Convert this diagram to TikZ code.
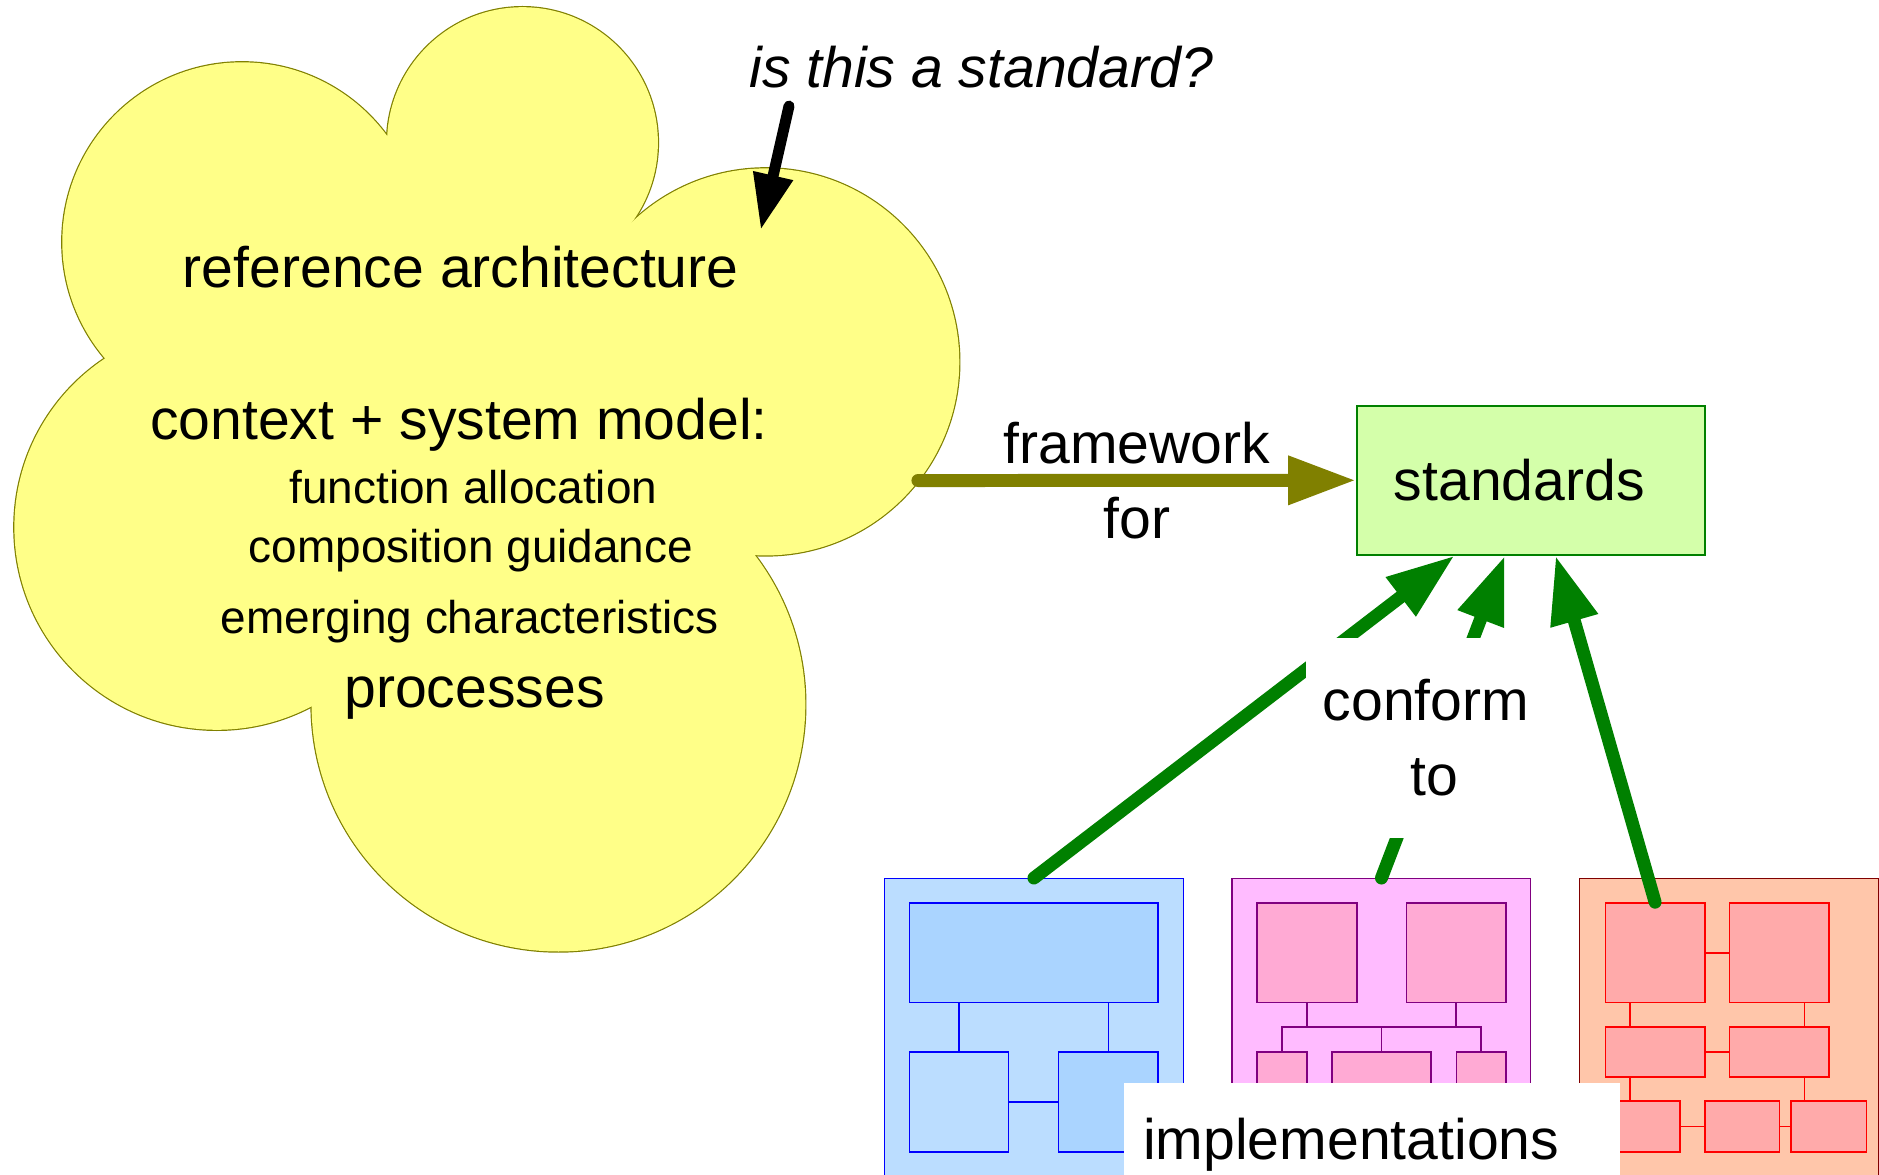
\documentclass[tikz,border=0pt]{standalone}
\usepackage{fontspec}
\setmainfont{Liberation Sans}
\usepackage{tikz}
\usetikzlibrary{positioning}
\usetikzlibrary{arrows.meta, calc}

\definecolor{cloudfill}{RGB}{255,255,136}
\definecolor{cloudline}{RGB}{128,128,0}
\definecolor{fwolive}{RGB}{128,128,0}
\definecolor{confgreen}{RGB}{0,128,0}
\definecolor{stdfill}{RGB}{212,255,170}
\definecolor{bluebg}{RGB}{187,221,255}
\definecolor{bluesub}{RGB}{170,212,255}
\definecolor{pinkbg}{RGB}{255,187,255}
\definecolor{pinksub}{RGB}{255,170,212}
\definecolor{pinkline}{RGB}{128,0,128}
\definecolor{redbg}{RGB}{255,198,170}
\definecolor{redsub}{RGB}{255,170,170}
\definecolor{redframe}{RGB}{128,0,0}

\newcommand{\bigtxt}{\fontsize{28.6}{37.4}\selectfont}
\newcommand{\smalltxt}{\fontsize{23}{28}\selectfont}

\tikzstyle{arrow} = [line width=6.5pt, line cap=round, -{Triangle[length=34pt, width=23pt]}]
\tikzstyle{cloudtext} = [anchor=base, inner sep=0pt]
\tikzstyle{implbox} = [draw, line width=0.6pt, inner sep=0pt, minimum width=149.6pt, minimum height=166.1pt]
\tikzstyle{part} = [draw, line width=0.8pt, inner sep=0pt]
\tikzstyle{wire} = [line width=0.8pt]
\tikzstyle{notebox} = [fill=white, font=\bigtxt]

\begin{document}
\begin{tikzpicture}[x=0.6pt, y=-0.6pt]
  \useasboundingbox (0,0) rectangle (1568,980);

  % cloud
  \foreach \cx/\cy/\r in {202/202/150, 436/119/113, 639/302/161.5, 466/588/206, 181/440/169}
    \draw[cloudline, line width=1.2pt] (\cx,\cy) circle (\r);
  \fill[cloudfill] (202,202) -- (436,119) -- (639,302) -- (466,588) -- (181,440) -- cycle;
  \foreach \cx/\cy/\r in {202/202/150, 436/119/113, 639/302/161.5, 466/588/206, 181/440/169}
    \fill[cloudfill] (\cx,\cy) circle (\r);

  \node[cloudtext, font=\bigtxt] (refarch) at (384.5,240) {reference architecture};
  \node[cloudtext, font=\bigtxt] (context) at (383,367) {context + system model:};
  \node[cloudtext, font=\smalltxt] (funcalloc) at (395,420) {function allocation};
  \node[cloudtext, font=\smalltxt] (compguide) at (393,469) {composition guidance};
  \node[cloudtext, font=\smalltxt] (emerging) at (392,529) {emerging characteristics};
  \node[cloudtext, font=\bigtxt] (processes) at (396,590) {processes};

  % question
  \node[cloudtext, font=\bigtxt\itshape] (question) at (818.8,72.9) {is this a standard?};
  \coordinate (qtail) at (658.4,88.5);
  \coordinate (cloudtop) at (634.8,192);
  \draw[line width=5.5pt, line cap=round, -{Triangle[length=28pt, width=19pt]}] (qtail) -- (cloudtop);

  % standards
  \node[draw=confgreen, fill=stdfill, line width=0.8pt, font=\bigtxt, text width=137pt,
        inner xsep=18.6pt, minimum height=74.6pt, align=left] (stds) at (1277.4,400.8) {standards};
  \coordinate (cloudright) at (766,401);
  \draw[arrow, fwolive] (cloudright) -- (stds.west)
    node[midway, font=\bigtxt, align=center, text=black] {framework\\for};

  % implementations
  \node[implbox, draw=blue, fill=bluebg] (blueimpl) at (862.8,871.6) {};
  \node[part, draw=blue, fill=bluesub, minimum width=124.4pt, minimum height=49.9pt] (bt) at (862.75,795.1) {};
  \node[part, draw=blue, fill=bluebg, minimum width=49.5pt, minimum height=50.1pt] (bl) at (800.35,919.65) {};
  \node[part, draw=blue, fill=bluesub, minimum width=49.8pt, minimum height=50.1pt] (br) at (924.9,919.65) {};
  \draw[wire, blue] (bt.south -| bl.north) -- (bl.north);
  \draw[wire, blue] (bt.south -| br.north) -- (br.north);
  \draw[wire, blue] (bl.east) -- (br.west);

  \node[implbox, draw=pinkline, fill=pinkbg] (pinkimpl) at (1152.8,871.6) {};
  \node[part, draw=pinkline, fill=pinksub, minimum width=50.1pt, minimum height=49.9pt] (pa) at (1090.65,795.1) {};
  \node[part, draw=pinkline, fill=pinksub, minimum width=49.8pt, minimum height=49.9pt] (pb) at (1215.2,795.1) {};
  \node[part, draw=pinkline, fill=pinksub, minimum width=25.1pt, minimum height=50.1pt] (pc) at (1069.8,919.65) {};
  \node[part, draw=pinkline, fill=pinksub, minimum width=49.8pt, minimum height=50.1pt] (pd) at (1152.8,919.65) {};
  \node[part, draw=pinkline, fill=pinksub, minimum width=24.7pt, minimum height=50.1pt] (pe) at (1236.1,919.65) {};
  \coordinate (pbus) at (1152.8,857);
  \draw[wire, pinkline] (pa.south) -- (pa.south |- pbus);
  \draw[wire, pinkline] (pb.south) -- (pb.south |- pbus);
  \draw[wire, pinkline] (pc.north) |- (pe.north |- pbus) -- (pe.north);
  \draw[wire, pinkline] (pd.north) -- (pd.north |- pbus);

  \node[implbox, draw=redframe, fill=redbg] (redimpl) at (1443,871.6) {};
  \node[part, draw=red, fill=redsub, minimum width=49.7pt, minimum height=49.9pt] (ra) at (1381.15,795.1) {};
  \node[part, draw=red, fill=redsub, minimum width=49.7pt, minimum height=49.9pt] (rb) at (1484.7,795.1) {};
  \node[part, draw=red, fill=redsub, minimum width=49.7pt, minimum height=25.1pt] (rc) at (1381.15,877.9) {};
  \node[part, draw=red, fill=redsub, minimum width=49.7pt, minimum height=25.1pt] (rd) at (1484.7,877.9) {};
  \node[part, draw=red, fill=redsub, minimum width=37.5pt, minimum height=25.4pt] (re) at (1370.55,940.15) {};
  \node[part, draw=red, fill=redsub, minimum width=37.4pt, minimum height=25.4pt] (rf) at (1453.8,940.15) {};
  \node[part, draw=red, fill=redsub, minimum width=37.7pt, minimum height=25.4pt] (rg) at (1526.15,940.15) {};
  \coordinate (rleft) at ($(ra.south west)!0.25!(ra.south east)$);
  \coordinate (rright) at ($(rb.south west)!0.75!(rb.south east)$);
  \draw[wire, red] (ra.east) -- (rb.west);
  \draw[wire, red] (rc.east) -- (rd.west);
  \draw[wire, red] (re.east) -- (rf.west);
  \draw[wire, red] (rf.east) -- (rg.west);
  \draw[wire, red] (rleft) -- (rleft |- rc.north);
  \draw[wire, red] (rleft |- rc.south) -- (rleft |- re.north);
  \draw[wire, red] (rright) -- (rright |- rd.north);
  \draw[wire, red] (rright |- rd.south) -- (rright |- rg.north);

  % conform to
  \coordinate (sin1) at ($(stds.south west)!0.282!(stds.south east)$);
  \coordinate (sin2) at ($(stds.south west)!0.426!(stds.south east)$);
  \coordinate (sin3) at ($(stds.south west)!0.571!(stds.south east)$);
  \draw[arrow, confgreen] (blueimpl.north) -- (sin1);
  \draw[arrow, confgreen] (pinkimpl.north) -- (sin2);
  \draw[arrow, confgreen] (ra.north) -- (sin3);

  % labels
  \node[notebox, align=center, inner xsep=8.4pt, minimum height=100pt] (conform) at (1190,615.7) {conform\\\hspace*{8pt}to};
  \node[notebox, anchor=north west, text width=229.2pt, inner xsep=9.6pt, inner ysep=18pt,
        align=left] (impl) at (937.7,903) {implementations};
\end{tikzpicture}
\end{document}
